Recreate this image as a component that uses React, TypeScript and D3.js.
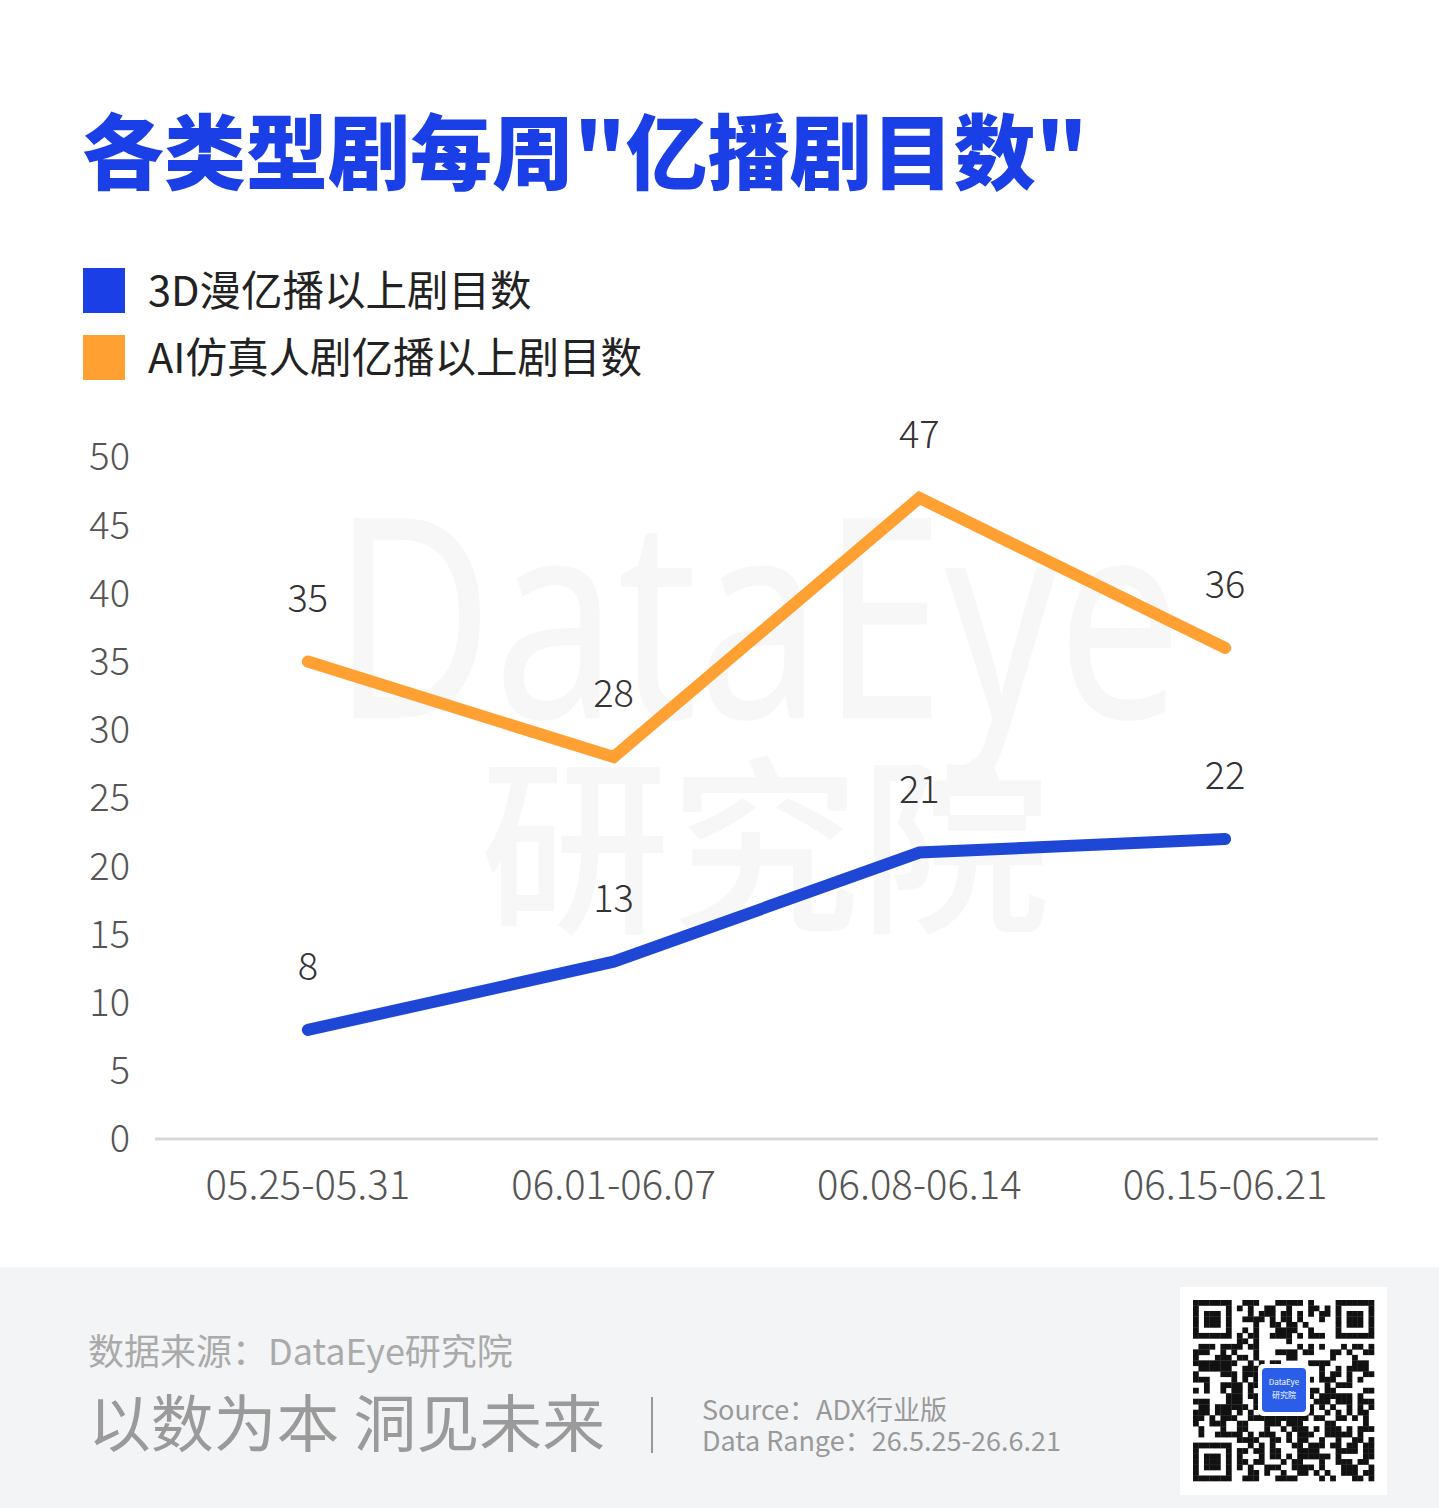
import * as d3 from "d3";
import React from "react";

const categories = ["05.25-05.31", "06.01-06.07", "06.08-06.14", "06.15-06.21"];
const series3D = [8, 13, 21, 22];
const seriesAI = [35, 28, 47, 36];
const yTicks = [0, 5, 10, 15, 20, 25, 30, 35, 40, 45, 50];
const legendNames = ["3D漫亿播以上剧目数", "AI仿真人剧亿播以上剧目数"];

const W = 1439;
const H = 1508;
const BLUE = "#1a3fe6";
const LINE_BLUE = "#1f47d6";
const ORANGE = "#ffa033";
const FONT = "'Noto Sans CJK SC', 'Noto Sans', sans-serif";

// a decorative pattern for the QR block (not chart data)
function qrCells(n: number) {
	const cells: { r: number; c: number }[] = [];
	const finder = (r: number, c: number, r0: number, c0: number) => {
		const dr = r - r0, dc = c - c0;
		if (dr < 0 || dc < 0 || dr > 6 || dc > 6) return null;
		const ring = Math.max(Math.abs(dr - 3), Math.abs(dc - 3));
		return ring === 3 || ring <= 1;
	};
	for (let r = 0; r < n; r++) {
		for (let c = 0; c < n; c++) {
			let v = finder(r, c, 0, 0);
			if (v === null) v = finder(r, c, 0, n - 7);
			if (v === null) v = finder(r, c, n - 7, 0);
			if (v === null) {
				if ((r === 7 || c === 7) && (r < 8 && c < 8)) continue;
				if ((r === 7 && c >= n - 8) || (c === n - 8 && r < 8)) continue;
				if ((c === 7 && r >= n - 8) || (r === n - 8 && c < 8)) continue;
				const h = Math.sin(r * 12.9898 + c * 78.233) * 43758.5453;
				v = h - Math.floor(h) > 0.5;
			}
			if (v) cells.push({ r, c });
		}
	}
	return cells;
}

export default function App() {
	const x = d3.scalePoint<string>().domain(categories).range([155, 1378]).padding(0.5);
	const y = d3.scaleLinear().domain([0, 50]).range([1139, 457]);

	const line = d3
		.line<number>()
		.x((_, i) => x(categories[i])!)
		.y((d) => y(d));

	const series = [
		{ values: seriesAI, color: ORANGE },
		{ values: series3D, color: LINE_BLUE },
	];

	const qrN = 33;
	const qrSize = 181;
	const qrX = 1193;
	const qrY = 1300;
	const cell = qrSize / qrN;

	return (
		<div style={{ position: "absolute", left: 0, top: 0 }}>
			<svg width={W} height={H} viewBox={`0 0 ${W} ${H}`} style={{ display: "block", fontFamily: FONT }}>
				<rect width={W} height={H} fill="#ffffff" />

				{/* watermark */}
				<g pointerEvents="none" aria-hidden="true">
					<text x={332} y={718} fontSize={280} fill="#f7f7f7" fontFamily="'Noto Sans', sans-serif" fontWeight={400} textLength={850} lengthAdjust="spacingAndGlyphs">
						DataEye
					</text>
					<text x={480} y={918} fontSize={190} fill="#f7f7f7" fontWeight={500}>
						研究院
					</text>
				</g>

				{/* title */}
				<text x={82} y={183} fontSize={82} fontWeight={900} fill={BLUE}>
					各类型剧每周"亿播剧目数"
				</text>

				{/* legend */}
				{legendNames.map((name, i) => (
					<g key={name} transform={`translate(83,${268 + i * 67})`}>
						<rect width={42} height={45} fill={i === 0 ? BLUE : ORANGE} />
						<text x={65} y={23} dy="0.35em" fontSize={41.5} fill="#222">
							{name}
						</text>
					</g>
				))}

				{/* y axis labels */}
				{yTicks.map((t) => (
					<text key={t} x={130} y={y(t)} dy="0.35em" textAnchor="end" fontSize={38} fill="#555" fontWeight={300}>
						{t}
					</text>
				))}

				{/* baseline */}
				<line x1={155} x2={1378} y1={y(0)} y2={y(0)} stroke="#d9d9d9" strokeWidth={3} />

				{/* x labels */}
				{categories.map((c) => (
					<text key={c} x={x(c)} y={1185} dy="0.35em" textAnchor="middle" fontSize={40} fill="#555" fontWeight={300}>
						{c}
					</text>
				))}

				{/* lines */}
				{series.map((s, si) => (
					<g key={si}>
						<path d={line(s.values) ?? ""} fill="none" stroke={s.color} strokeWidth={12} strokeLinejoin="miter" strokeLinecap="round" />
						{s.values.map((v, i) => (
							<text key={i} x={x(categories[i])} y={y(v) - 63} dy="0.35em" textAnchor="middle" fontSize={38} fill="#333" fontWeight={300}>
								{v}
							</text>
						))}
					</g>
				))}

				{/* footer */}
				<rect x={0} y={1267} width={W} height={H - 1267} fill="#f3f4f6" />
				<text x={88} y={1352} dy="0.35em" fontSize={36} fill="#aaaaaa">
					数据来源：DataEye研究院
				</text>
				<text x={88} y={1425} dy="0.35em" fontSize={62} fill="#9a9a9a" textLength={517} lengthAdjust="spacingAndGlyphs">
					以数为本 洞见未来
				</text>
				<line x1={652} x2={652} y1={1397} y2={1453} stroke="#999" strokeWidth={2} />
				<text x={702} y={1411} dy="0.35em" fontSize={27} fill="#999">
					Source：ADX行业版
				</text>
				<text x={702} y={1442} dy="0.35em" fontSize={27} fill="#999">
					Data Range：26.5.25-26.6.21
				</text>

				{/* QR block */}
				<rect x={1180} y={1287} width={207} height={208} fill="#ffffff" />
				{qrCells(qrN).map(({ r, c }) => (
					<rect key={`${r}-${c}`} x={qrX + c * cell} y={qrY + r * cell} width={cell + 0.3} height={cell + 0.3} fill="#111" />
				))}
				<rect x={1258} y={1364} width={52} height={52} rx={5} fill="#ffffff" />
				<rect x={1262} y={1368} width={44} height={44} rx={4} fill="#2a5ee8" />
				<text x={1284} y={1385} textAnchor="middle" fontSize={8} fill="#fff">DataEye</text>
				<text x={1284} y={1398} textAnchor="middle" fontSize={8} fill="#fff">研究院</text>
			</svg>
		</div>
	);
}
